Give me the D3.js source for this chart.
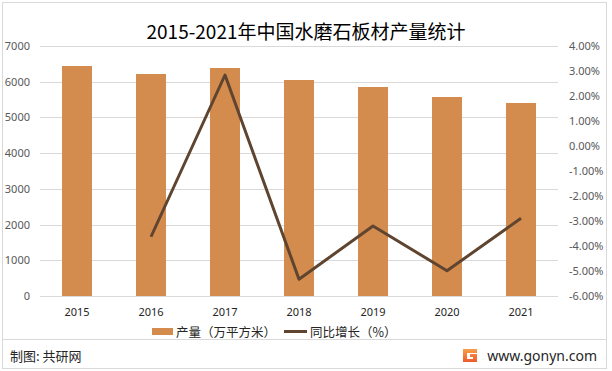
<!DOCTYPE html>
<head>
    <meta charset="utf-8">
    <title>水磨石板材产量统计</title>
    <script src="https://d3js.org/d3.v7.min.js"></script>
</head>

<body>
<svg id="chart" width="612" height="371"></svg>
</body>

<script>

    // data
    var years = ["2015", "2016", "2017", "2018", "2019", "2020", "2021"]
    var output = [6440, 6216, 6384, 6048, 5852, 5572, 5404]
    var growth = [null, -3.63, 2.84, -5.33, -3.2, -4.99, -2.89]
    var leftTicks = [0, 1000, 2000, 3000, 4000, 5000, 6000, 7000]
    var rightTicks = [-6, -5, -4, -3, -2, -1, 0, 1, 2, 3, 4]

    var width = 612,
        height = 371;

    var plot = {left: 40, right: 558, top: 46, bottom: 296}

    var svg = d3.select("#chart")

    var font = "'Noto Sans', 'Noto Sans CJK SC', sans-serif"
    var cjk = "'Noto Sans CJK SC', sans-serif"

    // frame
    svg.append("rect").attr("x", 2.5).attr("y", 2.5).attr("width", 604).attr("height", 366)
        .attr("fill", "white").attr("stroke", "#d9d9d9")
    svg.append("line").attr("x1", 3).attr("x2", 606).attr("y1", 339.5).attr("y2", 339.5)
        .attr("stroke", "#d9d9d9")

    var x = d3.scaleBand().domain(years).range([plot.left, plot.right]).paddingInner(0.595).paddingOuter(0.2975)
    var y = d3.scaleLinear().domain([0, 7000]).range([plot.bottom, plot.top])
    var y2 = d3.scaleLinear().domain([-6, 4]).range([plot.bottom, plot.top])

    // gridlines
    svg.append("g").selectAll("line")
        .data(leftTicks)
        .enter().append("line")
        .attr("x1", plot.left).attr("x2", plot.right)
        .attr("y1", function(d) { return Math.round(y(d)) + 0.5 })
        .attr("y2", function(d) { return Math.round(y(d)) + 0.5 })
        .attr("stroke", "#d9d9d9")

    // left axis
    var leftAxis = svg.append("g")
        .attr("transform", "translate(" + (plot.left - 10) + ",0)")
        .call(d3.axisLeft(y).tickValues(leftTicks).tickSize(0).tickPadding(0).tickFormat(d3.format("d")))
    leftAxis.select(".domain").remove()
    leftAxis.selectAll("text").style("font-family", font).style("font-size", "11px").attr("fill", "#595959")

    // right axis
    var rightAxis = svg.append("g")
        .attr("transform", "translate(" + 569 + ",0)")
        .call(d3.axisRight(y2).tickValues(rightTicks).tickSize(0).tickPadding(0)
            .tickFormat(function(d) { return d.toFixed(2) + "%" }))
    rightAxis.select(".domain").remove()
    rightAxis.selectAll("text").style("font-family", font).style("font-size", "11px").attr("fill", "#595959")

    // bottom axis
    var bottomAxis = svg.append("g")
        .attr("transform", "translate(0," + (plot.bottom + 12) + ")")
        .call(d3.axisBottom(x).tickSize(0).tickPadding(0))
    bottomAxis.select(".domain").remove()
    bottomAxis.selectAll("text").style("font-family", font).style("font-size", "11px").attr("fill", "#262626")

    // bars
    svg.append("g").selectAll("rect")
        .data(output)
        .enter().append("rect")
        .attr("x", function(d, i) { return x(years[i]) })
        .attr("width", x.bandwidth())
        .attr("y", function(d) { return y(d) })
        .attr("height", function(d) { return y(0) - y(d) })
        .attr("fill", "#D38C4E")

    // growth line
    var line = d3.line()
        .defined(function(d) { return d != null })
        .x(function(d, i) { return x(years[i]) + x.bandwidth() / 2 })
        .y(function(d) { return y2(d) })

    svg.append("path")
        .datum(growth)
        .attr("d", line)
        .attr("fill", "none")
        .attr("stroke", "#5F4530")
        .attr("stroke-width", 3)
        .attr("stroke-linejoin", "round")

    // title
    svg.append("text").attr("x", 306).attr("y", 39).attr("text-anchor", "middle")
        .text("2015-2021年中国水磨石板材产量统计")
        .style("font-family", cjk).style("font-size", "19px").attr("fill", "#000")

    // legend
    svg.append("rect").attr("x", 152).attr("y", 328).attr("width", 21).attr("height", 7).attr("fill", "#D38C4E")
    svg.append("text").attr("x", 176).attr("y", 336.5).text("产量（万平方米）")
        .style("font-family", cjk).style("font-size", "12.5px").attr("fill", "#262626")
    svg.append("line").attr("x1", 284).attr("x2", 307).attr("y1", 331.5).attr("y2", 331.5)
        .attr("stroke", "#5F4530").attr("stroke-width", 3)
    svg.append("text").attr("x", 310).attr("y", 336.5).text("同比增长（%）")
        .style("font-family", cjk).style("font-size", "12.5px").attr("fill", "#262626")

    // footer
    svg.append("text").attr("x", 10).attr("y", 361).text("制图: 共研网")
        .style("font-family", cjk).style("font-size", "13px").attr("fill", "#262626")

    var grad = svg.append("defs").append("linearGradient").attr("id", "logo")
        .attr("x1", 0).attr("y1", 0).attr("x2", 0).attr("y2", 1)
    grad.append("stop").attr("offset", "0%").attr("stop-color", "#F6A04A")
    grad.append("stop").attr("offset", "100%").attr("stop-color", "#EE5A2A")
    svg.append("path")
        .attr("d", "M463,349 h14 v4 h-10 v6 h6 v-2 h-3 v-3 h7 v8 h-14 z")
        .attr("fill", "url(#logo)")

    svg.append("text").attr("x", 597).attr("y", 361).attr("text-anchor", "end").text("www.gonyn.com")
        .style("font-family", font).style("font-size", "14px").attr("fill", "#262626")

</script>

<style>
    html, body {
        margin: 0;
    }

    svg {
        display: block;
        background: white;
    }
</style>

</html>
